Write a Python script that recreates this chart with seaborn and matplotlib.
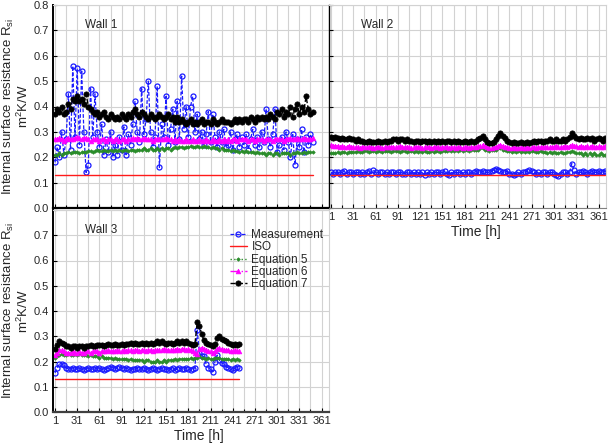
import numpy as np
import matplotlib
matplotlib.use("Agg")
import matplotlib.pyplot as plt
import seaborn as sns
from matplotlib.ticker import FixedLocator

# Values, one sample every 3 hours
iso_rsi = 0.13
hour_step = 3
tick_hours = [1, 31, 61, 91, 121, 151, 181, 211, 241, 271, 301, 331, 361]
minor_hours = [16, 46, 76, 106, 136, 166, 196, 226, 256, 286, 316, 346, 376]
y_ticks = [0.0, 0.1, 0.2, 0.3, 0.4, 0.5, 0.6, 0.7, 0.8]
series_names = ["Measurement", "ISO", "Equation 5", "Equation 6", "Equation 7"]

# Wall 1
w1_meas = [0.18, 0.24, 0.20, 0.30, 0.21, 0.27, 0.45, 0.23, 0.56, 0.28,
           0.55, 0.25, 0.54, 0.30, 0.14, 0.17, 0.47, 0.28, 0.45,
           0.30, 0.24, 0.33, 0.21, 0.27, 0.22, 0.30, 0.20, 0.25, 0.21,
           0.28, 0.23, 0.32, 0.21, 0.29, 0.25, 0.33, 0.42, 0.30,
           0.26, 0.47, 0.29, 0.35, 0.50, 0.30, 0.24, 0.28, 0.48, 0.16,
           0.33, 0.28, 0.44, 0.25, 0.31, 0.39, 0.26, 0.42, 0.27,
           0.52, 0.31, 0.40, 0.28, 0.40, 0.44, 0.30, 0.37, 0.27, 0.30,
           0.25, 0.29, 0.38, 0.26, 0.37, 0.28, 0.24, 0.30, 0.26, 0.31,
           0.24, 0.25, 0.30, 0.23, 0.27, 0.29, 0.24, 0.28, 0.25,
           0.29, 0.23, 0.27, 0.31, 0.25, 0.28, 0.24, 0.30, 0.26, 0.39,
           0.27, 0.24, 0.29, 0.39, 0.22, 0.25, 0.28, 0.23, 0.30,
           0.26, 0.20, 0.29, 0.17, 0.27, 0.24, 0.31, 0.22, 0.28, 0.25,
           0.29, 0.26]
w1_eq5 = [0.21, 0.21, 0.215, 0.21, 0.215, 0.215, 0.22, 0.215, 0.22, 0.22,
          0.22, 0.215, 0.22, 0.22, 0.22, 0.225, 0.225, 0.22, 0.225,
          0.23, 0.225, 0.225, 0.23, 0.225, 0.225, 0.23, 0.225, 0.23, 0.225,
          0.23, 0.225, 0.23, 0.23, 0.225, 0.23, 0.23, 0.225, 0.23,
          0.23, 0.23, 0.235, 0.23, 0.23, 0.235, 0.23, 0.23, 0.235, 0.23,
          0.235, 0.23, 0.235, 0.235, 0.23, 0.235, 0.24, 0.235, 0.24,
          0.24, 0.235, 0.24, 0.24, 0.245, 0.24, 0.24, 0.245, 0.24, 0.24,
          0.245, 0.24, 0.24, 0.235, 0.24, 0.235, 0.235, 0.23, 0.235, 0.23,
          0.23, 0.23, 0.225, 0.23, 0.225, 0.225, 0.22, 0.225, 0.22,
          0.225, 0.22, 0.22, 0.22, 0.215, 0.22, 0.215, 0.215, 0.215, 0.21,
          0.215, 0.215, 0.21, 0.215, 0.215, 0.21, 0.215, 0.215, 0.215,
          0.215, 0.21, 0.215, 0.215, 0.22, 0.215, 0.215, 0.22, 0.215, 0.22,
          0.22, 0.22]
w1_eq6 = [0.27, 0.27, 0.275, 0.27, 0.265, 0.27, 0.275, 0.27, 0.27, 0.275,
          0.28, 0.275, 0.27, 0.275, 0.275, 0.27, 0.265, 0.27, 0.27,
          0.27, 0.265, 0.27, 0.27, 0.265, 0.27, 0.27, 0.265, 0.27, 0.27,
          0.265, 0.27, 0.27, 0.265, 0.27, 0.27, 0.275, 0.27, 0.275,
          0.27, 0.27, 0.275, 0.27, 0.27, 0.27, 0.265, 0.27, 0.27, 0.27,
          0.27, 0.27, 0.275, 0.27, 0.27, 0.265, 0.27, 0.265, 0.27,
          0.265, 0.265, 0.27, 0.265, 0.265, 0.27, 0.265, 0.265, 0.27, 0.265,
          0.265, 0.27, 0.265, 0.265, 0.27, 0.265, 0.265, 0.27, 0.265, 0.27,
          0.265, 0.27, 0.265, 0.27, 0.27, 0.265, 0.27, 0.27, 0.27,
          0.27, 0.265, 0.27, 0.27, 0.265, 0.27, 0.27, 0.27, 0.265, 0.27,
          0.27, 0.27, 0.265, 0.27, 0.27, 0.27, 0.27, 0.265, 0.27,
          0.27, 0.275, 0.27, 0.27, 0.275, 0.27, 0.27, 0.275, 0.27, 0.27,
          0.27, 0.275]
w1_eq7 = [0.37, 0.39, 0.38, 0.40, 0.37, 0.38, 0.41, 0.39, 0.43, 0.42,
          0.44, 0.42, 0.43, 0.41, 0.45, 0.40, 0.39, 0.38, 0.37,
          0.38, 0.36, 0.37, 0.38, 0.36, 0.35, 0.37, 0.36, 0.35, 0.36,
          0.35, 0.37, 0.36, 0.35, 0.37, 0.36, 0.38, 0.39, 0.37,
          0.36, 0.38, 0.37, 0.36, 0.35, 0.37, 0.36, 0.35, 0.36, 0.37,
          0.36, 0.35, 0.36, 0.37, 0.35, 0.36, 0.34, 0.36, 0.34,
          0.35, 0.34, 0.33, 0.34, 0.35, 0.33, 0.34, 0.33, 0.34, 0.35,
          0.33, 0.34, 0.34, 0.33, 0.35, 0.34, 0.33, 0.34, 0.35, 0.34,
          0.34, 0.34, 0.33, 0.34, 0.35, 0.34, 0.35, 0.34, 0.35,
          0.35, 0.34, 0.36, 0.35, 0.34, 0.36, 0.35, 0.36, 0.35, 0.36,
          0.35, 0.37, 0.36, 0.35, 0.38, 0.37, 0.39, 0.36, 0.38,
          0.37, 0.40, 0.36, 0.39, 0.41, 0.37, 0.40, 0.38, 0.44, 0.39,
          0.37, 0.38]

# Wall 2
w2_meas = [0.14, 0.135, 0.14, 0.14, 0.135, 0.14, 0.145, 0.135, 0.14, 0.14,
           0.135, 0.14, 0.14, 0.135, 0.14, 0.135, 0.14, 0.145, 0.135,
           0.148, 0.14, 0.135, 0.14, 0.14, 0.135, 0.14, 0.135, 0.14, 0.14,
           0.135, 0.14, 0.14, 0.135, 0.135, 0.14, 0.14, 0.135, 0.14, 0.135,
           0.14, 0.135, 0.14, 0.13, 0.14, 0.135, 0.14, 0.135, 0.14,
           0.14, 0.135, 0.14, 0.145, 0.135, 0.13, 0.14, 0.135, 0.14, 0.14,
           0.135, 0.14, 0.135, 0.14, 0.14, 0.135, 0.14, 0.145, 0.14, 0.14,
           0.145, 0.14, 0.14, 0.14, 0.145, 0.15, 0.155, 0.15, 0.145, 0.14,
           0.14, 0.145, 0.135, 0.135, 0.13, 0.135, 0.14, 0.135, 0.14,
           0.14, 0.145, 0.15, 0.145, 0.14, 0.135, 0.14, 0.135, 0.14, 0.14,
           0.135, 0.14, 0.14, 0.135, 0.13, 0.128, 0.135, 0.14, 0.14, 0.135,
           0.14, 0.175, 0.15, 0.135, 0.14, 0.14, 0.145, 0.14, 0.135, 0.14,
           0.145, 0.14, 0.14, 0.145, 0.14, 0.14, 0.145]
w2_eq5 = [0.215, 0.215, 0.215, 0.22, 0.215, 0.22, 0.22, 0.215, 0.22, 0.22,
          0.22, 0.22, 0.225, 0.22, 0.22, 0.225, 0.225, 0.22, 0.225,
          0.225, 0.22, 0.225, 0.225, 0.22, 0.225, 0.225, 0.225, 0.22, 0.225,
          0.225, 0.225, 0.22, 0.225, 0.225, 0.22, 0.225, 0.225, 0.22, 0.225,
          0.22, 0.225, 0.22, 0.225, 0.22, 0.22, 0.225, 0.22, 0.225,
          0.225, 0.22, 0.225, 0.225, 0.225, 0.23, 0.225, 0.225, 0.23, 0.225,
          0.23, 0.225, 0.23, 0.23, 0.225, 0.23, 0.23, 0.23, 0.23, 0.235,
          0.235, 0.23, 0.23, 0.225, 0.23, 0.23, 0.23, 0.235, 0.235, 0.23,
          0.23, 0.225, 0.225, 0.22, 0.225, 0.22, 0.225, 0.22, 0.225,
          0.22, 0.225, 0.22, 0.225, 0.225, 0.22, 0.22, 0.225, 0.22, 0.22,
          0.215, 0.22, 0.215, 0.22, 0.215, 0.215, 0.22, 0.215, 0.215, 0.22,
          0.22, 0.225, 0.22, 0.215, 0.215, 0.215, 0.21, 0.215, 0.21, 0.215,
          0.21, 0.215, 0.21, 0.21, 0.215, 0.21, 0.21]
w2_eq6 = [0.25, 0.245, 0.245, 0.245, 0.24, 0.245, 0.24, 0.24, 0.245, 0.24,
          0.24, 0.24, 0.24, 0.235, 0.24, 0.24, 0.24, 0.24, 0.24,
          0.235, 0.24, 0.24, 0.24, 0.235, 0.24, 0.24, 0.24, 0.24, 0.24,
          0.24, 0.24, 0.245, 0.24, 0.24, 0.24, 0.24, 0.235, 0.24, 0.24,
          0.24, 0.24, 0.235, 0.24, 0.24, 0.24, 0.235, 0.24, 0.24,
          0.24, 0.235, 0.24, 0.24, 0.24, 0.235, 0.24, 0.24, 0.235, 0.24,
          0.24, 0.235, 0.24, 0.24, 0.235, 0.24, 0.24, 0.24, 0.245, 0.245,
          0.25, 0.245, 0.24, 0.235, 0.235, 0.24, 0.24, 0.245, 0.25, 0.245,
          0.24, 0.24, 0.235, 0.235, 0.24, 0.235, 0.235, 0.24, 0.235,
          0.235, 0.24, 0.235, 0.24, 0.24, 0.235, 0.24, 0.24, 0.24, 0.24,
          0.24, 0.24, 0.24, 0.24, 0.245, 0.24, 0.24, 0.24, 0.245, 0.24,
          0.245, 0.25, 0.245, 0.245, 0.24, 0.245, 0.24, 0.24, 0.245, 0.24,
          0.245, 0.24, 0.24, 0.245, 0.24, 0.24, 0.245]
w2_eq7 = [0.28, 0.275, 0.28, 0.275, 0.27, 0.275, 0.27, 0.27, 0.275, 0.27,
          0.27, 0.265, 0.27, 0.265, 0.265, 0.26, 0.26, 0.265, 0.26,
          0.26, 0.26, 0.265, 0.26, 0.26, 0.265, 0.26, 0.265, 0.265, 0.27,
          0.27, 0.265, 0.27, 0.27, 0.265, 0.27, 0.265, 0.265, 0.26, 0.265,
          0.265, 0.26, 0.265, 0.265, 0.26, 0.265, 0.26, 0.265, 0.26,
          0.265, 0.26, 0.265, 0.26, 0.265, 0.265, 0.26, 0.265, 0.26, 0.265,
          0.26, 0.26, 0.265, 0.26, 0.26, 0.265, 0.26, 0.265, 0.27, 0.275,
          0.285, 0.27, 0.26, 0.255, 0.255, 0.26, 0.27, 0.285, 0.295, 0.285,
          0.275, 0.265, 0.26, 0.255, 0.26, 0.255, 0.255, 0.26, 0.255,
          0.255, 0.26, 0.255, 0.26, 0.265, 0.26, 0.265, 0.265, 0.26, 0.265,
          0.265, 0.27, 0.265, 0.265, 0.27, 0.265, 0.265, 0.27, 0.265, 0.27,
          0.28, 0.295, 0.285, 0.275, 0.27, 0.275, 0.27, 0.27, 0.275, 0.27,
          0.275, 0.265, 0.27, 0.275, 0.27, 0.265, 0.275]

# Wall 3
w3_meas = [0.155, 0.175, 0.19, 0.19, 0.185, 0.175, 0.17, 0.17, 0.175, 0.17,
           0.17, 0.175, 0.17, 0.165, 0.17, 0.175, 0.17, 0.17, 0.175, 0.17,
           0.175, 0.17, 0.165, 0.17, 0.175, 0.18, 0.175, 0.17, 0.175,
           0.18, 0.175, 0.17, 0.175, 0.17, 0.165, 0.17, 0.17, 0.175, 0.17,
           0.17, 0.175, 0.17, 0.165, 0.17, 0.175, 0.17, 0.165, 0.17,
           0.175, 0.17, 0.17, 0.165, 0.17, 0.175, 0.165, 0.17, 0.175, 0.17,
           0.17, 0.175, 0.17, 0.165, 0.17, 0.175, 0.325, 0.235, 0.22, 0.22,
           0.19, 0.175, 0.17, 0.16, 0.2, 0.225, 0.205, 0.195, 0.19, 0.18,
           0.175, 0.17, 0.165, 0.175, 0.18, 0.175]
w3_eq5 = [0.215, 0.22, 0.225, 0.23, 0.225, 0.225, 0.23, 0.225, 0.225, 0.23,
          0.225, 0.23, 0.225, 0.225, 0.225, 0.22, 0.225, 0.22, 0.22, 0.22,
          0.215, 0.22, 0.215, 0.215, 0.215, 0.215, 0.21, 0.215, 0.21,
          0.21, 0.21, 0.21, 0.21, 0.205, 0.21, 0.205, 0.205, 0.205, 0.205,
          0.205, 0.2, 0.205, 0.205, 0.2, 0.2, 0.2, 0.205, 0.2,
          0.2, 0.205, 0.2, 0.205, 0.205, 0.205, 0.21, 0.205, 0.21, 0.21,
          0.21, 0.21, 0.21, 0.215, 0.21, 0.215, 0.215, 0.22, 0.215, 0.215,
          0.21, 0.215, 0.21, 0.21, 0.215, 0.215, 0.215, 0.21, 0.21, 0.21,
          0.21, 0.205, 0.21, 0.205, 0.21, 0.205]
w3_eq6 = [0.225, 0.235, 0.245, 0.245, 0.24, 0.235, 0.235, 0.235, 0.24, 0.235,
          0.235, 0.24, 0.235, 0.235, 0.24, 0.24, 0.235, 0.24, 0.24, 0.24,
          0.235, 0.24, 0.24, 0.24, 0.245, 0.24, 0.24, 0.24, 0.245,
          0.24, 0.24, 0.245, 0.24, 0.245, 0.245, 0.24, 0.245, 0.245, 0.24,
          0.245, 0.245, 0.24, 0.245, 0.245, 0.24, 0.245, 0.245, 0.245,
          0.245, 0.25, 0.245, 0.245, 0.245, 0.245, 0.245, 0.25, 0.245, 0.25,
          0.25, 0.245, 0.25, 0.245, 0.24, 0.235, 0.23, 0.25, 0.255, 0.25,
          0.245, 0.24, 0.24, 0.235, 0.24, 0.25, 0.255, 0.25, 0.245, 0.245,
          0.245, 0.24, 0.24, 0.245, 0.24, 0.24]
w3_eq7 = [0.25, 0.265, 0.28, 0.275, 0.27, 0.26, 0.26, 0.255, 0.26, 0.26,
          0.255, 0.26, 0.26, 0.255, 0.26, 0.26, 0.265, 0.26, 0.26, 0.265,
          0.265, 0.265, 0.26, 0.265, 0.27, 0.265, 0.265, 0.27, 0.265,
          0.265, 0.27, 0.265, 0.27, 0.27, 0.275, 0.27, 0.275, 0.27, 0.27,
          0.275, 0.27, 0.275, 0.27, 0.275, 0.27, 0.275, 0.28, 0.275,
          0.28, 0.275, 0.27, 0.275, 0.275, 0.27, 0.275, 0.28, 0.275, 0.28,
          0.275, 0.28, 0.275, 0.27, 0.265, 0.27, 0.355, 0.34, 0.31, 0.285,
          0.275, 0.27, 0.265, 0.26, 0.27, 0.295, 0.3, 0.29, 0.285, 0.28,
          0.275, 0.27, 0.265, 0.27, 0.265, 0.27]

# Plot style
sns.set_theme(style="whitegrid", context="paper")
plt.rcParams["font.family"] = ["Liberation Sans", "DejaVu Sans"]
plt.rcParams["mathtext.fontset"] = "custom"
plt.rcParams["mathtext.rm"] = "Liberation Sans"
plt.rcParams["mathtext.it"] = "Liberation Sans:italic"

GRID = "#d2d2d2"
STYLES = {
    "Measurement": dict(color="#1a1aff", linestyle=(0, (3, 1.5)), lw=0.9, marker="o",
                        ms=3.6, mfc="none", mec="#1a1aff", mew=0.9),
    "ISO": dict(color="#ff1a1a", linestyle="-", lw=1.0),
    "Equation 5": dict(color="#2a8c2a", linestyle=":", lw=1.0, marker="D",
                       ms=1.8, mec="#2a8c2a", mew=0.5),
    "Equation 6": dict(color="#ff00ff", linestyle="-.", lw=1.0, marker="^",
                       ms=3.4, mec="#ff00ff", mew=0.5),
    "Equation 7": dict(color="black", linestyle="--", lw=1.0, marker="o",
                       ms=3.8, mec="black", mew=0.5),
}


def plot_wall(ax, name, meas, eq5, eq6, eq7):
    hours = np.arange(1, 1 + hour_step * len(meas), hour_step)
    values = {
        "Measurement": meas,
        "ISO": [iso_rsi] * len(meas),
        "Equation 5": eq5,
        "Equation 6": eq6,
        "Equation 7": eq7,
    }
    for s in series_names:
        sns.lineplot(x=hours, y=values[s], ax=ax, label=s, legend=False,
                     sort=False, estimator=None, errorbar=None, **STYLES[s])

    ax.set_xlim(-1.7, 371)
    ax.set_ylim(0, 0.8)
    ax.set_xticks(tick_hours)
    ax.xaxis.set_minor_locator(FixedLocator(minor_hours))
    ax.set_yticks(y_ticks)
    ax.set_yticklabels([f"{t:.1f}" for t in y_ticks])
    ax.grid(which="both", color=GRID, lw=0.8)
    ax.tick_params(which="both", direction="in", bottom=True, left=True,
                   color="black", width=0.8, labelsize=8, pad=3)
    ax.tick_params(which="major", length=3)
    ax.tick_params(which="minor", length=2)
    for side in ["top", "right"]:
        ax.spines[side].set_color(GRID)
        ax.spines[side].set_linewidth(0.8)
    ax.spines["left"].set_color("black")
    ax.spines["left"].set_linewidth(1.4)
    ax.spines["bottom"].set_color("black")
    ax.spines["bottom"].set_linewidth(1.6)
    ax.text(0.117, 0.9, name, transform=ax.transAxes, fontsize=8.5,
            ha="left", va="center")
    ax.set_xlabel("")
    ax.set_ylabel("")


ylabel = "Internal surface resistance R$_{\\mathrm{si}}$\nm$^2$K/W"

fig = plt.figure(figsize=(6.08, 4.45), dpi=100)
ax1 = fig.add_axes([53 / 608, 1 - 208 / 445, 276 / 608, 203 / 445])
ax2 = fig.add_axes([329 / 608, 1 - 208 / 445, 277 / 608, 203 / 445])
ax3 = fig.add_axes([53 / 608, 1 - 412 / 445, 276 / 608, 202 / 445])

plot_wall(ax1, "Wall 1", w1_meas, w1_eq5, w1_eq6, w1_eq7)
plot_wall(ax2, "Wall 2", w2_meas, w2_eq5, w2_eq6, w2_eq7)
plot_wall(ax3, "Wall 3", w3_meas, w3_eq5, w3_eq6, w3_eq7)

ax1.tick_params(labelbottom=False)
ax2.tick_params(labelleft=False)
ax2.spines["left"].set_linewidth(1.0)
ax2.spines["bottom"].set_color("#808080")
ax2.spines["bottom"].set_linewidth(0.8)
ax3.set_yticklabels([f"{t:.1f}" for t in y_ticks[:-1]] + [""])
ax3.spines["bottom"].set_color("#404040")

for ax in [ax1, ax3]:
    ax.set_ylabel(ylabel, fontsize=9.5, linespacing=0.95)
    ax.yaxis.set_label_coords(-0.08, 0.5)
for ax in [ax2, ax3]:
    ax.set_xlabel("Time [h]", fontsize=10, labelpad=2, x=0.53)

ax3.legend(loc="upper left", bbox_to_anchor=(0.64, 0.905), frameon=False,
           fontsize=8.5, handlelength=1.5, handletextpad=0.35,
           labelspacing=0.02, borderpad=0, borderaxespad=0, numpoints=1)

fig.savefig("out.png", dpi=100)
plt.close(fig)
